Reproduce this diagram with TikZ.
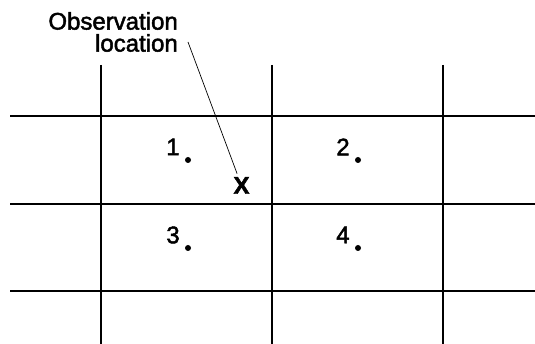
\documentclass[tikz,border=0pt]{standalone}
\usepackage{fontspec}
\setmainfont{Liberation Sans}
\newfontfamily\figfont[FakeBold=2]{Liberation Sans}
\usetikzlibrary{positioning}

\begin{document}
\begin{tikzpicture}[
  x=1pt, y=1pt,
  font=\figfont\fontsize{24}{22}\selectfont,
  grid/.style  ={draw=black, line width=1.7pt},
  leader/.style={draw=black, line width=0.7pt},
  site/.style  ={circle, fill=black, inner sep=0pt, minimum size=6pt},
  num/.style   ={inner sep=0pt, font=\figfont\fontsize{24}{24}\selectfont},
  obsx/.style  ={font=\figfont\bfseries\fontsize{24}{24}\selectfont},
]
\useasboundingbox (0,0) rectangle (535,344);

% --- Grid lines ---
\foreach \y in {228, 140, 53}
  \draw[grid] (10,\y) -- (535,\y);
\foreach \x in {101, 272, 443}
  \draw[grid] (\x,279) -- (\x,0);

% --- Grid points with numbers ---
\foreach \i/\x/\y in {1/188/184, 2/358/184, 3/188/96, 4/358/96} {
  \node[site] (p\i) at (\x,\y) {};
  \node[num]  (n\i) at (\x-15,\y+13) {\i};
}

% --- Observation location ---
\node[obsx] (obs) at (241.5,158.5) {X};
\node[inner sep=0pt, align=right, anchor=north east] (lbl) at (178,332) {Observation\\location};
\coordinate (ldr) at (188,302);
\draw[leader] (ldr) -- (obs);
\end{tikzpicture}
\end{document}
